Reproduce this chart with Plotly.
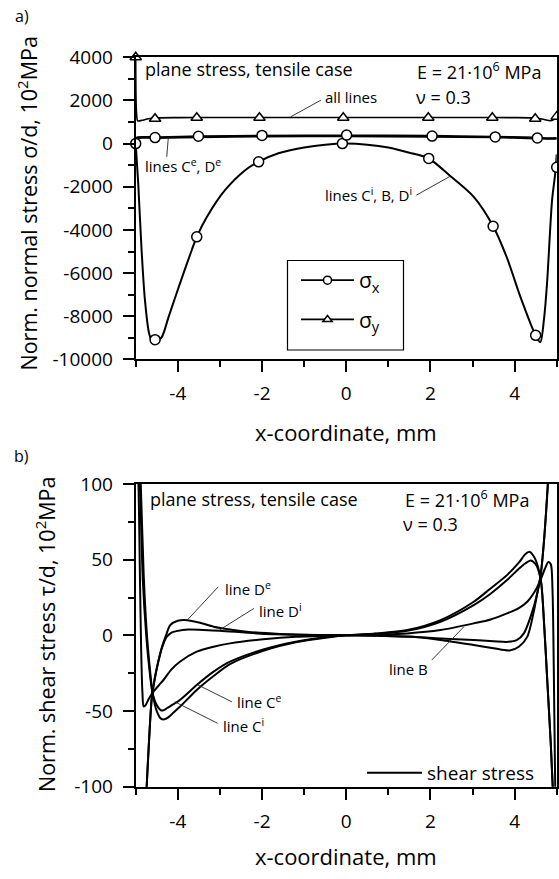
import plotly.graph_objects as go

# ---------------- panel a) normal stress ----------------
# lines C^i, B, D^i (coincide) - sigma_x
SX_INNER_X = [-5.00, -4.94, -4.86, -4.78, -4.68, -4.58, -4.50, -4.38, -4.22, -3.95, -3.67, -3.55, -3.31,
              -2.88, -2.40, -2.08, -1.61, -1.00, -0.50, 0.00, 0.50, 1.00, 1.50, 1.96, 2.47, 3.03, 3.49,
              3.81, 4.14, 4.50, 4.61, 4.70, 4.77, 4.89, 4.97, 5.00]
SX_INNER_Y = [0, -1850, -4940, -7260, -8810, -9270, -9180, -8970, -8040, -6490, -4940, -4320, -3400,
              -2160, -1230, -840, -450, -180, -50, 0, -50, -180, -420, -690, -1500, -2470, -3830,
              -5250, -7110, -8890, -9200, -8100, -6490, -2620, -1300, -500]
SX_INNER_MK_X = [-5.00, -4.54, -3.55, -2.08, -0.09, 1.96, 3.49, 4.50, 5.00]
SX_INNER_MK_Y = [0, -9085, -4320, -844, 0, -686, -3828, -8885, -1100]

# lines C^e, D^e - sigma_x
SX_OUTER_X = [-5.00, -4.95, -4.50, -3.50, -2.00, 0.00, 2.00, 3.50, 4.50, 4.85, 5.00]
SX_CE_Y = [250, 300, 300, 340, 370, 380, 360, 320, 280, 250, 260]
SX_DE_Y = [200, 260, 260, 300, 330, 340, 320, 290, 240, 220, 230]
SX_OUTER_MK_X = [-4.54, -3.51, -2.00, 0.01, 2.04, 3.54, 4.54]
SX_OUTER_MK_Y = [280, 340, 380, 395, 350, 310, 260]

# all lines - sigma_y
SY_X = [-5.00, -4.98, -4.95, -4.85, -4.70, -4.50, -4.00, -3.00, -2.00, 0.00, 2.00, 3.00, 4.00,
        4.50, 4.70, 4.85, 4.95, 5.00]
SY_Y = [4000, 1400, 1050, 1080, 1150, 1190, 1205, 1210, 1210, 1210, 1210, 1210, 1205,
        1180, 1120, 1060, 1150, 1320]
SY_MK_X = [-5.00, -4.54, -3.55, -2.06, -0.07, 1.95, 3.47, 4.49, 5.00]
SY_MK_Y = [4000, 1150, 1200, 1200, 1200, 1200, 1200, 1150, 1250]

# ---------------- panel b) shear stress ----------------
CE_X = [-4.95, -4.90, -4.83, -4.75, -4.68, -4.60, -4.50, -4.40, -4.34, -4.25, -4.10, -3.95, -3.55,
        -3.15, -2.76, -1.97, -1.20, -0.40, 0.00, 0.70, 1.45, 2.24, 3.03, 3.43, 3.82, 4.10, 4.25,
        4.38, 4.50, 4.62, 4.70, 4.78, 4.86, 4.93]
CE_Y = [130, 100, 36, 0, -21, -38, -46, -49.5, -49.5, -48, -45.5, -42.7, -32.8,
        -24, -17.4, -9.3, -4.2, -1, 0, 1, 3, 9, 20, 27.5, 36.5, 44, 47.5,
        49.5, 47, 37, 8, -32, -72, -115]

CI_X = [-4.93, -4.88, -4.81, -4.74, -4.67, -4.60, -4.50, -4.40, -4.32, -4.22, -4.10, -3.95, -3.55,
        -3.15, -2.76, -1.97, -1.20, -0.40, 0.00, 0.70, 1.45, 2.24, 3.03, 3.43, 3.82, 4.10, 4.25,
        4.35, 4.48, 4.62, 4.70, 4.78, 4.86, 4.93]
CI_Y = [130, 100, 40, 3, -20, -38, -50, -55, -55.5, -54, -51, -47.2, -36.1,
        -26.9, -19, -10.2, -4.6, -1.2, 0, 1.2, 3.5, 10.1, 22.2, 31, 39.8, 48, 53.5,
        55.3, 51, 37, 8, -32, -72, -115]

DE_X = [-4.80, -4.74, -4.68, -4.62, -4.55, -4.46, -4.38, -4.28, -4.18, -4.00, -3.83, -3.50, -3.15,
        -2.76, -2.36, -1.57, -0.78, 0.00, 0.78, 1.57, 2.24, 3.03, 3.50, 3.88, 4.10, 4.30, 4.45,
        4.54, 4.62, 4.70, 4.79, 4.84]
DE_Y = [-130, -100, -68, -42, -29, -17, -8, 0, 6.8, 9.6, 10.1, 8.5, 5.7,
        3.8, 2.4, 0.9, 0.2, 0, -0.3, -1.0, -3.1, -6.4, -8.5, -10, -7.5, -1, 15,
        28, 40, 63, 100, 125]

DI_X = [-4.80, -4.74, -4.68, -4.62, -4.55, -4.46, -4.36, -4.26, -4.15, -4.03, -3.75, -3.40, -3.00,
        -2.12, -1.20, 0.00, 0.78, 1.50, 2.24, 3.03, 3.50, 3.85, 4.05, 4.22, 4.40, 4.54, 4.62,
        4.70, 4.79, 4.84]
DI_Y = [-130, -100, -68, -42, -29, -17, -7, -0.9, 1.8, 2.8, 3.9, 3.6, 3.1,
        1.3, 0.4, 0, -0.2, -0.8, -2.0, -3.1, -3.9, -4.3, -3.2, 1.3, 14, 28, 40,
        63, 100, 125]

B_X = [-4.97, -4.93, -4.90, -4.87, -4.84, -4.81, -4.76, -4.70, -4.60, -4.45, -4.34, -4.15, -3.95,
       -3.55, -3.15, -2.76, -1.97, -1.20, 0.00, 0.70, 1.45, 2.24, 3.03, 3.43, 3.82, 4.10, 4.30,
       4.50, 4.62, 4.72, 4.80, 4.86, 4.90, 4.93, 4.96, 4.99]
B_Y = [130, 95, 40, -10, -38, -47, -46, -42.5, -38, -33, -29.5, -22.5, -17.4,
       -10.8, -7.5, -5.3, -2.6, -0.9, 0, 0.5, 1.3, 3.5, 7.9, 10.5, 14.5, 18, 22.2,
       30, 37, 44, 48.5, 47, 30, -20, -90, -140]

# ---------------- ticks ----------------
X_TICKS = [-4, -2, 0, 2, 4]
X_TICK_TEXT = ["-4", "-2", "0", "2", "4"]
YA_TICKS = [-10000, -8000, -6000, -4000, -2000, 0, 2000, 4000]
YA_TICK_TEXT = ["-10000", "-8000", "-6000", "-4000", "-2000", "0", "2000", "4000"]
YB_TICKS = [-100, -50, 0, 50, 100]
YB_TICK_TEXT = ["-100", "-50", "0", "50", "100"]

FONT = "Open Sans"
W, H = 559, 879


def fx(p):
    return p / W


def fy(p):
    return 1 - p / H


fig = go.Figure()


def curve(x, y, xa, ya, width=2.0, **kw):
    fig.add_trace(go.Scatter(x=x, y=y, mode="lines", xaxis=xa, yaxis=ya,
                             line=dict(color="black", width=width, shape="spline", smoothing=0.8),
                             hoverinfo="skip", **kw))


def markers(x, y, xa, ya, symbol):
    fig.add_trace(go.Scatter(x=x, y=y, mode="markers", xaxis=xa, yaxis=ya, cliponaxis=False,
                             marker=dict(symbol=symbol, size=10, color="white",
                                         line=dict(color="black", width=1.5)),
                             showlegend=False, hoverinfo="skip"))


# panel a
curve(SX_OUTER_X, SX_CE_Y, "x", "y", showlegend=False)
curve(SX_OUTER_X, SX_DE_Y, "x", "y", showlegend=False)
curve(SX_INNER_X, SX_INNER_Y, "x", "y", showlegend=False)
curve(SY_X, SY_Y, "x", "y", width=1.6, showlegend=False)
markers(SX_INNER_MK_X, SX_INNER_MK_Y, "x", "y", "circle")
markers(SX_OUTER_MK_X, SX_OUTER_MK_Y, "x", "y", "circle")
markers(SY_MK_X, SY_MK_Y, "x", "y", "triangle-up")

# legend entries for panel a
for nm, sym, grp in [("σ<sub>x</sub>", "circle", "gx"), ("σ<sub>y</sub>", "triangle-up", "gy")]:
    fig.add_trace(go.Scatter(x=[None], y=[None], mode="lines+markers", name=nm, xaxis="x", yaxis="y",
                             line=dict(color="black", width=1.8),
                             marker=dict(symbol=sym, size=8, color="white",
                                         line=dict(color="black", width=1.5)),
                             legend="legend", legendgroup=grp, showlegend=True))

# panel b
curve(CE_X, CE_Y, "x2", "y2", name="shear stress", legend="legend2", showlegend=True)
curve(CI_X, CI_Y, "x2", "y2", showlegend=False)
curve(DE_X, DE_Y, "x2", "y2", showlegend=False)
curve(DI_X, DI_Y, "x2", "y2", showlegend=False)
curve(B_X, B_Y, "x2", "y2", showlegend=False)


def axis(domain, anchor, rng, tickvals, ticktext, minor_dtick, standoff):
    return dict(domain=domain, anchor=anchor, range=rng, tickmode="array", tickvals=tickvals,
                ticktext=ticktext, showline=True, linecolor="black", linewidth=2, mirror=True,
                ticks="outside", ticklen=11, tickwidth=1.5, tickcolor="black", showgrid=False,
                zeroline=False, ticklabelstandoff=standoff, automargin=False,
                tickfont=dict(family=FONT, size=19, color="black"),
                minor=dict(ticks="outside", ticklen=6, tickwidth=1.5, tickcolor="black",
                           tickmode="linear", tick0=0, dtick=minor_dtick, showgrid=False),
                fixedrange=True)


XDOM = [fx(135.7), fx(556.7)]
fig.update_layout(
    width=W, height=H, margin=dict(l=0, r=0, t=0, b=0, pad=0), autosize=False,
    paper_bgcolor="white", plot_bgcolor="white",
    font=dict(family=FONT, color="black"),
    xaxis=axis(XDOM, "y", [-5, 5], X_TICKS, X_TICK_TEXT, 1, 5),
    yaxis=axis([fy(359.4), fy(57.3)], "x", [-10000, 4000], YA_TICKS, YA_TICK_TEXT, 1000, 6),
    xaxis2=axis(XDOM, "y2", [-5, 5], X_TICKS, X_TICK_TEXT, 1, 5),
    yaxis2=axis([fy(786.7), fy(484.0)], "x2", [-100, 100], YB_TICKS, YB_TICK_TEXT, 25, 6),
    legend=dict(x=fx(296), y=fy(260), xanchor="left", yanchor="top", bgcolor="rgba(0,0,0,0)",
                borderwidth=0, font=dict(family=FONT, size=21, color="black"), itemwidth=53,
                tracegroupgap=9),
    legend2=dict(x=fx(362), y=fy(773), xanchor="left", yanchor="middle", bgcolor="rgba(0,0,0,0)",
                 borderwidth=0, font=dict(family=FONT, size=19, color="black"), itemwidth=55),
    showlegend=True,
)

shapes = []
# legend frame panel a
shapes.append(dict(type="rect", xref="paper", yref="paper", x0=fx(287.5), x1=fx(403.5),
                   y0=fy(350), y1=fy(260.5), line=dict(color="black", width=1.2),
                   fillcolor="white", layer="above"))


def leader(xref, yref, x0, y0, x1, y1):
    shapes.append(dict(type="line", xref=xref, yref=yref, x0=x0, y0=y0, x1=x1, y1=y1,
                       line=dict(color="#222", width=0.9)))


# panel a leaders
leader("x", "y", -0.596, 2019, -1.316, 1244)
leader("x", "y", -4.263, -612, -4.225, 288)
leader("x", "y", 1.666, -2389, 2.475, -1508)
# panel b leaders
leader("x2", "y2", -3.038, 32.1, -3.775, 10.1)
leader("x2", "y2", -2.191, 17.8, -3.012, 3.5)
leader("x2", "y2", -2.717, -43.9, -3.521, -32.8)
leader("x2", "y2", -3.055, -58.1, -4.073, -43.9)
leader("x2", "y2", 2.032, -16.3, 2.796, 5.7)
fig.update_layout(shapes=shapes)

ann = []


def text(t, x, y, xref, yref, size, xanchor="left", yanchor="middle", angle=0):
    ann.append(dict(text=t, x=x, y=y, xref=xref, yref=yref, showarrow=False, xanchor=xanchor,
                    yanchor=yanchor, textangle=angle,
                    font=dict(family=FONT, size=size, color="black")))


# panel labels
text("a)", fx(13), fy(16), "paper", "paper", 16)
text("b)", fx(12), fy(456), "paper", "paper", 16)
# axis titles
text("Norm. normal stress σ/d, 10<sup>2</sup>MPa", fx(27), fy(203.5), "paper", "paper", 21.5,
     "center", "middle", -90)
text("x-coordinate, mm", fx(346), fy(432), "paper", "paper", 22, "center", "middle")
text("Norm. shear stress τ/d, 10<sup>2</sup>MPa", fx(45), fy(634), "paper", "paper", 21.5,
     "center", "middle", -90)
text("x-coordinate, mm", fx(346), fy(856), "paper", "paper", 22, "center", "middle")
# panel a texts
text("plane stress, tensile case", -4.836, 3457, "x", "y", 18)
text("E = 21·10<sup>6</sup> MPa", 1.642, 3378, "x", "y", 18)
text("ν = 0.3", 1.609, 2172, "x", "y", 18)
text("all lines", -0.555, 2144, "x", "y", 15)
text("lines C<sup>e</sup>, D<sup>e</sup>", -4.836, -997, "x", "y", 15)
text("lines C<sup>i</sup>, B, D<sup>i</sup>", -0.555, -2357, "x", "y", 15)
# panel b texts
text("plane stress, tensile case", -4.707, 89.9, "x2", "y2", 18)
text("E = 21·10<sup>6</sup> MPa", 1.354, 89.9, "x2", "y2", 18)
text("ν = 0.3", 1.309, 73.5, "x2", "y2", 18)
text("line D<sup>e</sup>", -2.929, 31.1, "x2", "y2", 15)
text("line D<sup>i</sup>", -2.122, 16.7, "x2", "y2", 15)
text("line C<sup>e</sup>", -2.639, -43.9, "x2", "y2", 15)
text("line C<sup>i</sup>", -2.971, -59.3, "x2", "y2", 15)
text("line B", 0.971, -22.5, "x2", "y2", 15)
fig.update_layout(annotations=ann)

fig.write_html("out.html", config={"displayModeBar": False},
               post_script="document.body.style.margin='0';")
